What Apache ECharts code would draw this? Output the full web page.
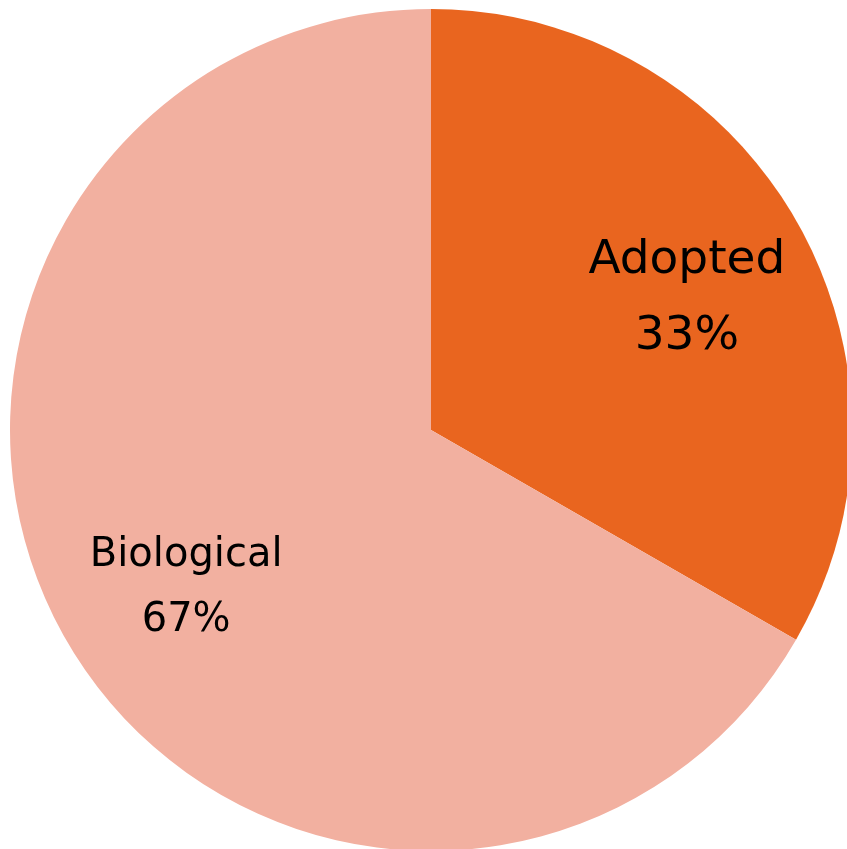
<!DOCTYPE html>
<html><head><meta charset="utf-8">
<script src="https://cdn.jsdelivr.net/npm/echarts@6/dist/echarts.min.js"></script>
<style>html,body{margin:0;padding:0;background:#fff}#c{width:847px;height:849px}</style>
</head><body><div id="c"></div>
<script>
const categories = ['Adopted', 'Biological'];
const values = [33.3, 66.7];
const percentLabels = ['33%', '67%'];
const colors = ['#E9651F', '#F2B0A0'];
const fontSizes = [47, 40];

const chart = echarts.init(document.getElementById('c'));
const base = categories.map((c, i) => ({ name: c, value: values[i], itemStyle: { color: colors[i] } }));
const labelOffsets = [[4, 15], [7, 12]];
chart.setOption({
  animation: false,
  series: [
    {
      type: 'pie', center: [431, 430], radius: 421, startAngle: 90, clockwise: true,
      silent: true, label: { show: false }, labelLine: { show: false },
      itemStyle: { borderWidth: 0 },
      data: base
    },
    {
      type: 'pie', center: [431, 430], radius: [155, 421], startAngle: 90, clockwise: true,
      silent: true, labelLine: { show: false },
      itemStyle: { color: 'rgba(0,0,0,0)', borderWidth: 0 },
      label: {
        show: true, position: 'inside', color: '#000',
        fontFamily: 'DejaVu Sans',
        formatter: p => p.name + '\n' + percentLabels[p.dataIndex]
      },
      data: categories.map((c, i) => ({
        name: c, value: values[i],
        itemStyle: { color: 'rgba(0,0,0,0)' },
        label: { fontSize: fontSizes[i], lineHeight: Math.round(fontSizes[i] * 1.62), offset: labelOffsets[i] }
      }))
    }
  ]
});
</script></body></html>
